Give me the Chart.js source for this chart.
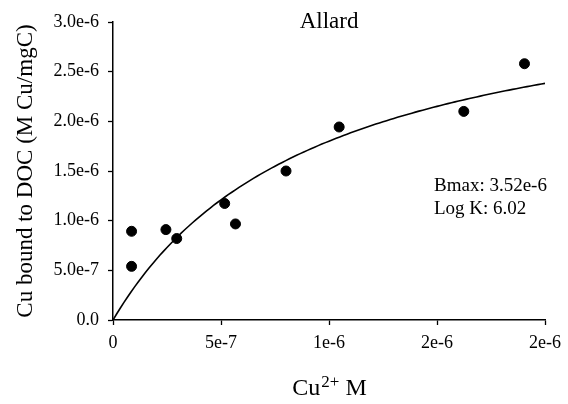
<!DOCTYPE html>
<html>
<head>
<meta charset="utf-8">
<script src="https://cdn.jsdelivr.net/npm/chart.js@4/dist/chart.umd.min.js"></script>
<style>
  html, body { margin: 0; padding: 0; background: #fff; }
  #wrap { width: 568px; height: 404px; }
</style>
</head>
<body>
<div id="wrap"><canvas id="c" width="568" height="404"></canvas></div>
<script>
// Measured Cu2+ concentration (M) and Cu bound to DOC (M Cu/mgC)
const cuFree  = [8.6e-8, 8.6e-8, 2.45e-7, 2.95e-7, 5.17e-7, 5.67e-7, 8.01e-7, 1.047e-6, 1.624e-6, 1.905e-6];
const cuBound = [8.93e-7, 5.4e-7, 9.1e-7, 8.2e-7, 1.173e-6, 9.67e-7, 1.50e-6, 1.943e-6, 2.10e-6, 2.58e-6];

// Langmuir fit parameters
const BMAX = 3.52e-6;
const LOG_K = 6.02;

// Axis ticks
const xTickValues = [0, 5e-7, 1e-6, 1.5e-6, 2e-6];
const xTickLabels = ["0", "5e-7", "1e-6", "2e-6", "2e-6"];
const yTickValues = [0, 5e-7, 1e-6, 1.5e-6, 2e-6, 2.5e-6, 3e-6];
const yTickLabels = ["0.0", "5.0e-7", "1.0e-6", "1.5e-6", "2.0e-6", "2.5e-6", "3.0e-6"];

const chartTitle = "Allard";
const yTitle = "Cu bound to DOC (M Cu/mgC)";
const fitText = ["Bmax: 3.52e-6", "Log K: 6.02"];

const SERIF = "'Liberation Serif', 'Times New Roman', serif";

// Fitted binding curve: B = Bmax*K*x/(1+K*x)
const K = Math.pow(10, LOG_K);
const fitCurve = [];
const N = 120;
for (let i = 0; i <= N; i++) {
  const x = xTickValues[xTickValues.length - 1] * i / N;
  fitCurve.push({ x: x, y: BMAX * K * x / (1 + K * x) });
}

const points = cuFree.map((x, i) => ({ x: x, y: cuBound[i] }));

// Text drawn on the canvas: title inside the plot, x-axis title with superscript, fit parameters
const textPlugin = {
  id: 'chartText',
  afterDraw(chart) {
    const ctx = chart.ctx;
    const a = chart.chartArea;
    ctx.save();
    ctx.fillStyle = '#000';
    ctx.textBaseline = 'alphabetic';

    // Title
    ctx.font = "23px " + SERIF;
    ctx.textAlign = 'center';
    ctx.fillText(chartTitle, (a.left + a.right) / 2, a.top + 6);

    // X-axis title: Cu²⁺ M
    ctx.textAlign = 'left';
    const big = "24px " + SERIF, small = "17px " + SERIF;
    ctx.font = big;  const w1 = ctx.measureText("Cu").width;
    ctx.font = small; const w2 = ctx.measureText("2+").width;
    ctx.font = big;  const w3 = ctx.measureText(" M").width;
    let x0 = (a.left + a.right) / 2 - (w1 + w2 + w3) / 2;
    const base = a.bottom + 75;
    ctx.font = big;   ctx.fillText("Cu", x0, base);
    ctx.font = small; ctx.fillText("2+", x0 + w1 + 1, base - 8);
    ctx.font = big;   ctx.fillText(" M", x0 + w1 + w2 + 1, base);

    // Fit parameters
    ctx.font = "19px " + SERIF;
    ctx.fillText(fitText[0], a.left + 321, a.top + 169);
    ctx.fillText(fitText[1], a.left + 321, a.top + 192);
    ctx.restore();
  }
};

new Chart(document.getElementById('c'), {
  type: 'scatter',
  data: {
    datasets: [
      {
        type: 'line',
        label: 'fit',
        data: fitCurve,
        borderColor: '#000',
        borderWidth: 1.6,
        pointRadius: 0,
        fill: false,
        tension: 0
      },
      {
        label: 'Cu bound',
        data: points,
        backgroundColor: '#000',
        borderColor: '#000',
        pointRadius: 5,
        pointHoverRadius: 5
      }
    ]
  },
  options: {
    responsive: false,
    animation: false,
    devicePixelRatio: 1,
    layout: { padding: { left: 0, top: 22, right: 21, bottom: 0 } },
    plugins: {
      legend: { display: false },
      tooltip: { enabled: false },
      title: { display: false }
    },
    scales: {
      x: {
        type: 'linear',
        min: 0,
        max: 2e-6,
        afterFit(s) { s.height = 84; },
        afterBuildTicks(s) { s.ticks = xTickValues.map(v => ({ value: v })); },
        ticks: {
          color: '#000',
          font: { family: SERIF, size: 18 },
          padding: 7,
          maxRotation: 0,
          autoSkip: false,
          callback: (v, i) => xTickLabels[i]
        },
        grid: { drawOnChartArea: false, drawTicks: true, tickLength: 5, tickColor: '#000', tickWidth: 1.3 },
        border: { display: true, color: '#000', width: 1.5 }
      },
      y: {
        type: 'linear',
        min: 0,
        max: 3e-6,
        afterFit(s) { s.width = 113; },
        afterBuildTicks(s) { s.ticks = yTickValues.map(v => ({ value: v })); },
        ticks: {
          color: '#000',
          font: { family: SERIF, size: 18 },
          padding: 9,
          autoSkip: false,
          callback: (v, i) => yTickLabels[i]
        },
        title: {
          display: true,
          text: yTitle,
          color: '#000',
          font: { family: SERIF, size: 23 },
          padding: { top: 12, bottom: 0 }
        },
        grid: { drawOnChartArea: false, drawTicks: true, tickLength: 5, tickColor: '#000', tickWidth: 1.3 },
        border: { display: true, color: '#000', width: 1.5 }
      }
    }
  },
  plugins: [textPlugin]
});
</script>
</body>
</html>
